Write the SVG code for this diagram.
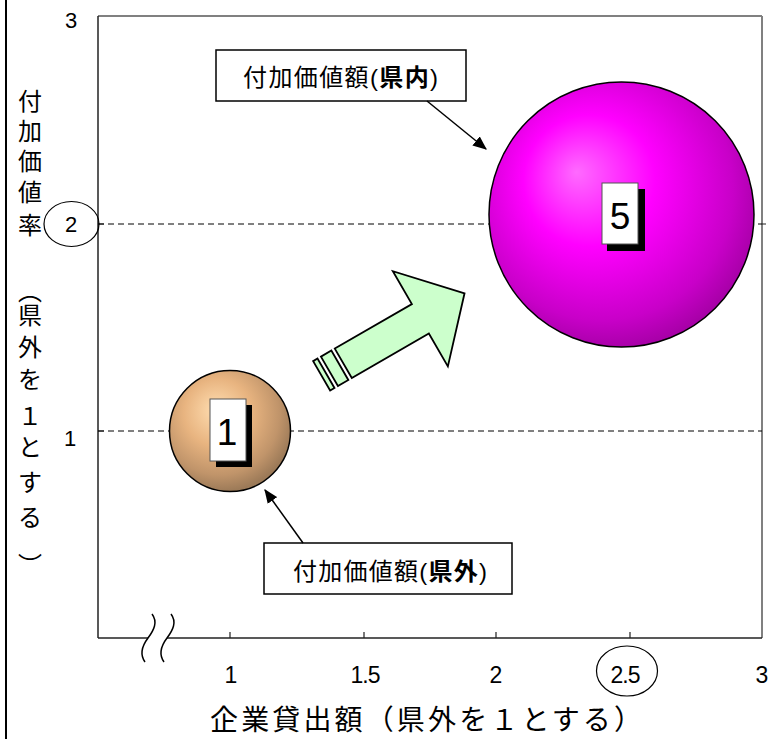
<svg xmlns="http://www.w3.org/2000/svg" width="775" height="739" viewBox="0 0 775 739">
<defs>
<radialGradient id="gSmall" cx="0.42" cy="0.38" r="0.62" fx="0.38" fy="0.32">
<stop offset="0" stop-color="#FFDDB0"/>
<stop offset="0.45" stop-color="#E8B480"/>
<stop offset="0.8" stop-color="#C0946A"/>
<stop offset="1" stop-color="#9C7A58"/>
</radialGradient>
<radialGradient id="gBig" cx="0.45" cy="0.42" r="0.62" fx="0.33" fy="0.34">
<stop offset="0" stop-color="#FF6AFF"/>
<stop offset="0.4" stop-color="#FF00FF"/>
<stop offset="0.8" stop-color="#C800C8"/>
<stop offset="1" stop-color="#9E009E"/>
</radialGradient>
<marker id="ah2" viewBox="0 0 12 10" refX="11" refY="5" markerWidth="14" markerHeight="12" markerUnits="userSpaceOnUse" orient="auto">
<path d="M0,0 L12,5 L0,10 Z" fill="#000"/>
</marker>
</defs>
<style>
.num{font-family:"Liberation Sans",Arial,sans-serif;fill:#000}
.jp{font-family:"Noto Sans CJK JP","Liberation Sans",sans-serif;fill:#000}
.call{font-family:"Liberation Sans","Noto Sans CJK JP",sans-serif;font-size:24px;fill:#000}
.dash{stroke:#000;stroke-width:1;stroke-dasharray:6 4;fill:none}
.box{fill:#fff;stroke:#000;stroke-width:1.5}
.lbl{fill:#fff;stroke:#555;stroke-width:1}
.shadow{fill:#000}
.big{font-family:"Liberation Sans",Arial,sans-serif;font-size:37px;fill:#000;text-anchor:middle}
</style>
<rect x="0" y="0" width="775" height="739" fill="#fff"/>
<line x1="6" y1="0" x2="6" y2="739" stroke="#000" stroke-width="2"/>

<g id="plot-frame">
<line x1="98" y1="16" x2="762" y2="16" stroke="#808080" stroke-width="2"/>
<line x1="762" y1="16" x2="762" y2="638" stroke="#808080" stroke-width="2"/>
<line x1="98" y1="16" x2="98" y2="638" stroke="#222" stroke-width="1.5"/>
<line x1="98" y1="638" x2="762" y2="638" stroke="#222" stroke-width="1.5"/>
<path d="M230,638V632M364,638V632M496,638V632M630,638V632M98,224H104M98,431H104M762,224H766" stroke="#222" stroke-width="1.2"/>
<line class="dash" x1="98" y1="224" x2="762" y2="224"/>
<line class="dash" x1="98" y1="431" x2="762" y2="431"/>
</g>

<g id="axis-break">
<path d="M152,614 C158,622 154,630 148,638 C142,646 140,655 145,662 L164,662 C159,655 161,646 167,638 C173,630 177,622 171,614 Z" fill="#fff"/>
<path d="M152,614 C158,622 154,630 148,638 C142,646 140,655 145,662" fill="none" stroke="#000" stroke-width="1.5"/>
<path d="M171,614 C177,622 173,630 167,638 C161,646 159,655 164,662" fill="none" stroke="#000" stroke-width="1.5"/>
</g>

<g id="y-ticks" class="num" font-size="22" text-anchor="middle">
<text x="71" y="28">3</text>
<ellipse cx="71.5" cy="224" rx="27.5" ry="22.5" fill="none" stroke="#000" stroke-width="1.2"/>
<text x="71" y="232">2</text>
<text x="70" y="446">1</text>
</g>

<g id="x-ticks" class="num" font-size="23" text-anchor="middle">
<text x="231" y="683">1</text>
<text x="365" y="683" letter-spacing="-1">1.5</text>
<text x="496" y="683">2</text>
<ellipse cx="627" cy="671" rx="30.5" ry="25" fill="none" stroke="#000" stroke-width="1.2"/>
<text x="625" y="683" letter-spacing="-1">2.5</text>
<text x="762" y="683">3</text>
</g>

<g id="x-title">
<text class="jp" x="210" y="730" font-size="28" textLength="432" lengthAdjust="spacing">企業貸出額（県外を１とする）</text>
</g>

<g id="y-title">
<text class="jp" font-size="24" text-anchor="middle"><tspan x="30" y="110">付</tspan><tspan x="30" y="140">加</tspan><tspan x="30" y="170">価</tspan><tspan x="30" y="201">値</tspan><tspan x="30" y="234">率</tspan><tspan x="30" y="300">︵</tspan><tspan x="30" y="324">県</tspan><tspan x="30" y="356">外</tspan><tspan x="30" y="388">を</tspan><tspan x="30" y="425">１</tspan><tspan x="30" y="456">と</tspan><tspan x="30" y="491">す</tspan><tspan x="30" y="526">る</tspan><tspan x="30" y="574">︶</tspan></text>
</g>

<g id="node-outside">
<circle cx="230" cy="431" r="60.5" fill="url(#gSmall)" stroke="#000" stroke-width="1.5"/>
<rect class="shadow" x="216" y="405" width="36" height="62"/>
<rect class="lbl" x="210" y="399" width="36" height="62"/>
<text class="big" x="227" y="445">1</text>
</g>

<g id="node-inside">
<circle cx="621.5" cy="214.5" r="132.5" fill="url(#gBig)" stroke="#000" stroke-width="1.5"/>
<rect class="shadow" x="607" y="189" width="38" height="62"/>
<rect class="lbl" x="602" y="183" width="36" height="61"/>
<text class="big" x="620" y="229">5</text>
</g>

<g id="growth-arrow" transform="translate(343.3,363.3) rotate(-30)" fill="#CCFFCC" stroke="#000" stroke-width="1.8" stroke-linejoin="miter">
<polygon points="0,-17 89,-17 89,-55 140,0 89,55 89,17 0,17"/>
<rect x="-16" y="-17" width="12" height="34"/>
<rect x="-25" y="-17" width="5" height="34"/>
</g>

<g id="callout-inside">
<rect class="box" x="216" y="50" width="250" height="51"/>
<text class="call" x="243" y="86" textLength="195" lengthAdjust="spacing">付加価値額(<tspan font-weight="bold">県内</tspan>)</text>
</g>

<g id="callout-outside">
<rect class="box" x="264" y="543" width="248" height="51"/>
<text class="call" x="293" y="580" textLength="194" lengthAdjust="spacing">付加価値額(<tspan font-weight="bold">県外</tspan>)</text>
</g>

<g id="connectors" stroke="#000" stroke-width="1.5" fill="none">
<line x1="427" y1="101" x2="486" y2="149" marker-end="url(#ah2)"/>
<line x1="303" y1="543" x2="265" y2="490" marker-end="url(#ah2)"/>
</g>
</svg>
